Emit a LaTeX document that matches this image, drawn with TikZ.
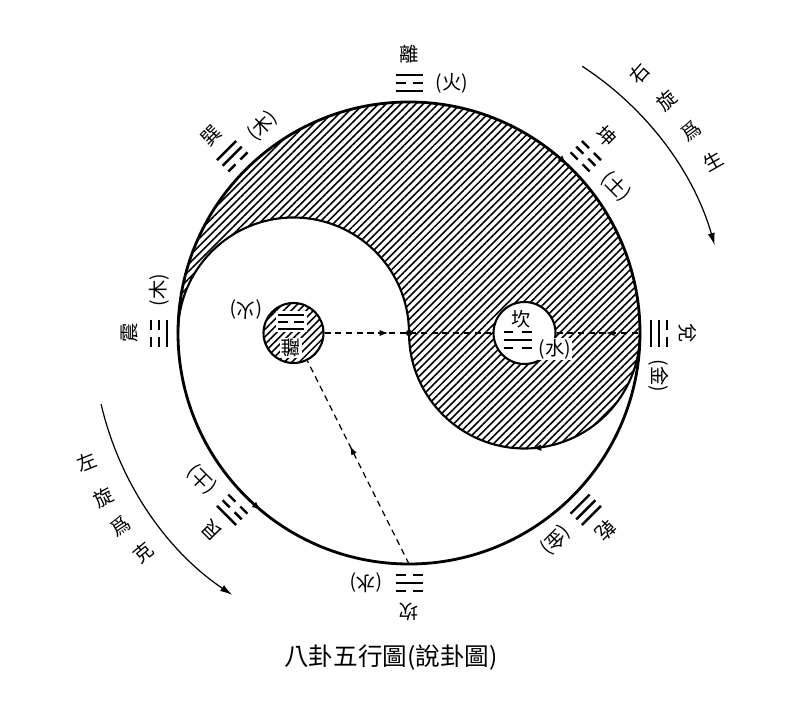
\documentclass[tikz,border=0pt]{standalone}
\usepackage{fontspec}
\newfontfamily\cjk{Noto Sans CJK TC}
\usetikzlibrary{arrows.meta,patterns.meta,decorations.markings,calc}
\newcommand\yaoS[1]{\draw[yao] (-13.5,#1) -- (13.5,#1);}
\newcommand\yaoB[1]{\draw[yao] (-13.5,#1) -- (-3.5,#1) (3.5,#1) -- (13.5,#1);}
\newcommand\guagroup[7]{%
  \begin{scope}[shift={(C)},rotate=#1-90]
    \node[lab,rotate=#1-90] (#2name) at (0,279) {#3};
    \node[lab,rotate=#1-90] (#2elem) at (43,250) {(#4)};
    \csname yao#5\endcsname{258}
    \csname yao#6\endcsname{250}
    \csname yao#7\endcsname{242}
  \end{scope}}
\begin{document}
\begin{tikzpicture}[x=0.02cm,y=0.02cm,
  lab/.style={font=\cjk\fontsize{11}{13}\selectfont, inner sep=0pt},
  yao/.style={line width=1.4pt},
  outerline/.style={line width=1.6pt},
  scurve/.style={line width=1.2pt},
  eyeline/.style={line width=1.2pt},
  dashedline/.style={line width=0.7pt, dash pattern=on 3.5pt off 2.6pt},
  hatch/.style={pattern={Lines[angle=45,distance=3pt,line width=0.9pt]}},
  smalltip/.style={-{Latex[length=7pt,width=4pt]}, line width=0.7pt}]
\useasboundingbox (0,0) rectangle (800,721);
\coordinate (C) at (409,388);
\coordinate (L) at (178,388);
% hatched (yin) region
\fill[hatch] (L) arc[start angle=180,end angle=0,radius=231]
  arc[start angle=0,end angle=-180,radius=115.5]
  arc[start angle=0,end angle=180,radius=115.5] -- cycle;
% outer circle with arrows
\draw[outerline, postaction={decorate}, decoration={markings,
  mark=at position 0.1306 with {\arrowreversed{Latex[length=5pt,width=4pt]}},
  mark=at position 0.639 with {\arrow{Latex[length=5pt,width=4pt]}}}]
  (C) circle[radius=231];
% S curve
\draw[scurve, postaction={decorate}, decoration={markings,
  mark=at position 0.761 with {\arrowreversed{Latex[length=5pt,width=4pt]}}}]
  (L) arc[start angle=180,end angle=0,radius=115.5]
  arc[start angle=180,end angle=360,radius=115.5];
% eyes
\node[draw, circle, eyeline, minimum size=1.2cm, inner sep=0pt, hatch] (lieye) at (293.5,388) {};
\node[draw, circle, eyeline, minimum size=1.24cm, inner sep=0pt, fill=white] (kaneye) at (524.5,388) {};
% Li eye content
\fill[white] (276,389) rectangle (307,410);
\draw[yao] (278,406) -- (304,406);
\draw[yao] (278,399) -- (288,399) (294,399) -- (304,399);
\draw[yao] (278,392) -- (304,392);
\node[lab, rotate=180, fill=white, inner sep=0.5pt] (lieyename) at (291,373) {離};
\node[lab, rotate=180] (lieyeelem) at (246,411) {(火)};
% Kan eye content
\node[lab] (kaneyename) at (521,402) {坎};
\draw[yao] (503.5,389) -- (513,389) (522,389) -- (531.5,389);
\draw[yao] (503.5,381) -- (531.5,381);
\draw[yao] (503.5,373) -- (513,373) (522,373) -- (531.5,373);
\node[lab, fill=white, inner sep=0.5pt] (kaneyeelem) at (555,372) {(水)};
% dashed connectors
\coordinate (duiin) at (640,388);
\coordinate (kanbot) at (409,157);
\draw[dashedline, postaction={decorate}, decoration={markings,
  mark=at position 0.38 with {\arrow{Latex[length=5pt,width=3.5pt]}},
  mark=at position 0.503 with {\fill (0,0) circle[radius=1.8pt];}}]
  (lieye) -- (kaneye);
\draw[dashedline, postaction={decorate}, decoration={markings,
  mark=at position 0.59 with {\arrowreversed{Latex[length=5pt,width=3.5pt]}}}]
  (kaneye) -- (duiin);
\draw[dashedline, postaction={decorate}, decoration={markings,
  mark=at position 0.58 with {\arrow{Latex[length=5pt,width=3.5pt]}}}]
  (kanbot) -- (lieye);
% eight trigrams
\guagroup{90}{li}{離}{火}{S}{B}{S}
\guagroup{45}{kun}{坤}{土}{B}{B}{B}
\guagroup{0}{dui}{兌}{金}{B}{S}{S}
\guagroup{-45}{qian}{乾}{金}{S}{S}{S}
\guagroup{-90}{kan}{坎}{水}{B}{S}{B}
\guagroup{-135}{gen}{艮}{土}{S}{B}{B}
\guagroup{180}{zhen}{震}{木}{B}{B}{S}
\guagroup{135}{xun}{巽}{木}{S}{S}{B}
% rotation arrows
\path (C) ++(57:318) coordinate (rstart);
\path (C) ++(193:316) coordinate (lstart);
\draw[smalltip] (rstart) arc[start angle=57,end angle=16,radius=318];
\draw[smalltip] (lstart) arc[start angle=193,end angle=236,radius=316];
\path (C) ++(48.4:347) node[lab, rotate=48.4] (r1) {右};
\path (C) ++(42:347) node[lab, rotate=42] (r2) {旋};
\path (C) ++(35.7:347) node[lab, rotate=35.7] (r3) {爲};
\path (C) ++(29.5:349) node[lab, rotate=29.5] (r4) {生};
\path (C) ++(201.8:347) node[lab, rotate=21.8] (l1) {左};
\path (C) ++(208.2:347) node[lab, rotate=28.2] (l2) {旋};
\path (C) ++(213.8:347) node[lab, rotate=33.8] (l3) {爲};
\path (C) ++(219.6:345) node[lab, rotate=39.6] (l4) {克};
% caption
\node[font=\cjk\fontsize{14}{16}\selectfont, inner sep=0pt] (caption) at (391,63) {八卦五行圖(說卦圖)};
\end{tikzpicture}
\end{document}
